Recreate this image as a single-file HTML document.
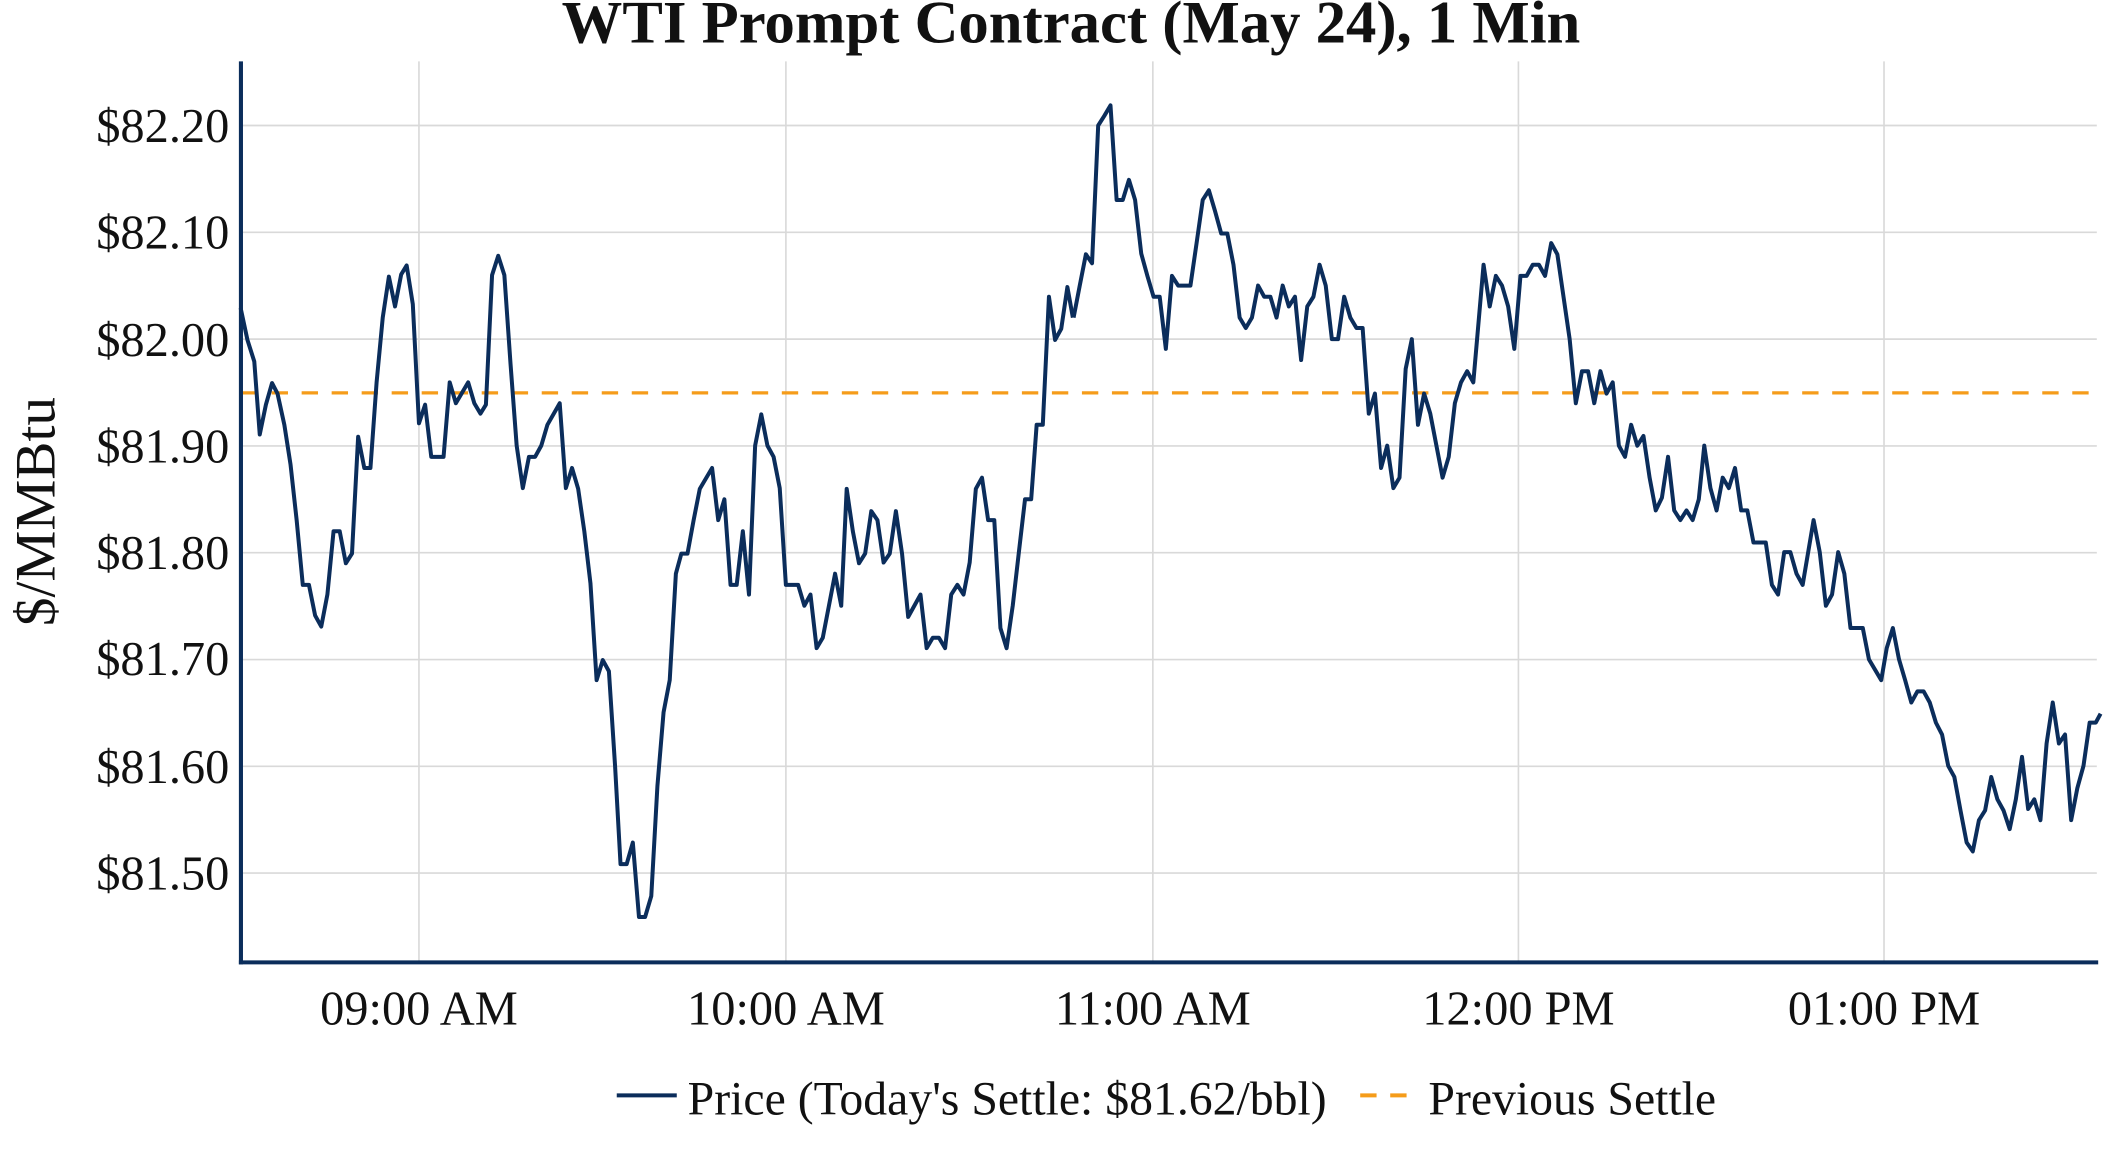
<!DOCTYPE html>
<html><head><meta charset="utf-8"><style>
html,body{margin:0;padding:0;background:#fff;}
svg{display:block;}
text{font-family:"Liberation Serif",serif;fill:#111;}
</style></head><body>
<svg width="2112" height="1152" viewBox="0 0 1548 844.5" xmlns="http://www.w3.org/2000/svg">
<rect width="1548" height="844.5" fill="#fff"/>
<g stroke="#d9d9d9" stroke-width="1.2">
<line x1="176" x2="1537" y1="92" y2="92"/><line x1="176" x2="1537" y1="170.3" y2="170.3"/>
<line x1="176" x2="1537" y1="248.6" y2="248.6"/><line x1="176" x2="1537" y1="326.9" y2="326.9"/>
<line x1="176" x2="1537" y1="405.2" y2="405.2"/><line x1="176" x2="1537" y1="483.5" y2="483.5"/>
<line x1="176" x2="1537" y1="561.8" y2="561.8"/><line x1="176" x2="1537" y1="640" y2="640"/>
<line x1="307" x2="307" y1="45" y2="706"/><line x1="576" x2="576" y1="45" y2="706"/>
<line x1="845" x2="845" y1="45" y2="706"/><line x1="1113" x2="1113" y1="45" y2="706"/>
<line x1="1381" x2="1381" y1="45" y2="706"/>
</g>
<line x1="177" x2="1537" y1="288" y2="288" stroke="#f59c1a" stroke-width="2.4" stroke-dasharray="12,10"/>
<g fill="none" stroke="#0b2d5b" stroke-width="4" stroke-linejoin="round">
<polyline transform="matrix(0.5009 0 0 0.5458 -1.554 -0.786)" vector-effect="non-scaling-stroke" points="355,415 365,458 375,487 383,585 392,545 401,516 409,530 419,572 428,625 437,700 446,787 455,787 464,828 473,843 482,800 491,715 500,715 509,758 518,745 527,588 536,630 545,630 554,515 563,428 572,373 581,413 590,370 598,358 607,410 616,570 625,545 634,615 652,615 661,515 670,543 688,515 697,543 706,557 714,545 723,371 732,345 741,371 750,490 759,600 768,657 777,615 786,615 795,600 804,572 822,543 831,657 840,630 849,658 858,715 867,785 876,915 885,888 894,903 903,1030 911,1162 920,1162 929,1133 938,1233 947,1233 956,1205 965,1057 974,958 983,915 992,772 1000,745 1009,745 1018,700 1027,658 1045,630 1054,700 1063,672 1072,787 1081,787 1090,715 1099,800 1108,600 1117,558 1126,600 1135,615 1144,657 1153,787 1171,787 1180,815 1189,800 1198,872 1207,858 1216,815 1225,772 1234,815 1242,658 1251,715 1260,758 1269,745 1278,688 1287,700 1296,757 1305,745 1314,688 1323,745 1332,830 1341,815 1350,800 1359,872 1368,858 1377,858 1386,872 1395,800 1404,787 1413,800 1422,757 1431,658 1440,643 1449,700 1458,700 1467,845 1476,872 1485,815 1494,743 1503,672 1512,672 1520,572 1529,572 1538,400 1547,458 1556,443 1565,387 1573,428"/>
<polyline transform="matrix(0.5009 0 0 0.5458 784.39 -0.786)" vector-effect="non-scaling-stroke" points="5,428 14,385 23,343 32,355 41,170 50,157 59,143 68,270 77,270 86,243 95,270 104,342 113,372 122,400 131,400 140,470 149,372 158,385 176,385 185,328 194,270 203,257 212,285 221,315 230,315 239,357 248,428 257,442 266,428 275,385 284,400 293,400 302,428 311,385 320,413 329,400 338,485 347,413 356,400 365,357 374,385 383,457 392,457 401,400 410,428 419,442 428,442 437,557 446,530 455,630 464,600 473,657 482,643 491,497 500,457 509,572 518,530 527,557 536,600 545,643 554,615 563,543 572,515 581,500 590,515 605,357 614,413 623,372 632,385 641,413 650,470 659,372 668,372 677,357 686,357 695,372 704,328 713,343 722,400 731,457 740,543 749,500 758,500 767,543 776,500 785,530 794,515 803,600 812,615 821,572 830,600 839,587 848,643 857,687 866,670 875,615 884,687 893,700 902,687 911,700 920,672 928,600 937,657 946,687 955,643 964,657 973,630 982,687 991,687 1000,730 1018,730 1027,787 1036,800 1045,743 1054,743 1063,772 1072,787 1088,700 1097,743 1106,815 1115,800 1124,743 1133,772 1142,845 1160,845 1169,887 1187,915 1195,872 1204,845 1213,887 1222,915 1231,945 1240,930 1249,930 1258,945 1267,972 1276,988 1285,1030 1294,1045 1303,1090 1312,1133 1321,1145 1330,1103 1339,1090 1348,1045 1357,1075 1366,1090 1375,1115 1384,1075 1393,1018 1402,1088 1411,1075 1420,1103 1429,1000 1438,945 1447,1000 1456,988 1465,1103 1474,1060 1483,1030 1492,972 1501,972 1508,960"/>
</g>
<g stroke="#0b2d5b" stroke-width="3">
<line x1="176.5" x2="176.5" y1="45" y2="707"/>
<line x1="175" x2="1538" y1="705.5" y2="705.5"/>
</g>
<text x="785" y="31" font-size="44.5" font-weight="bold" text-anchor="middle">WTI Prompt Contract (May 24), 1 Min</text>
<g font-size="35.5" text-anchor="end">
<text x="168" y="104">$82.20</text><text x="168" y="182">$82.10</text>
<text x="168" y="261">$82.00</text><text x="168" y="339">$81.90</text>
<text x="168" y="417">$81.80</text><text x="168" y="495">$81.70</text>
<text x="168" y="574">$81.60</text><text x="168" y="652">$81.50</text>
</g>
<text transform="translate(40,375) rotate(-90)" font-size="42" text-anchor="middle">$/MMBtu</text>
<g font-size="35.5" text-anchor="middle">
<text x="307" y="751">09:00 AM</text><text x="576" y="751">10:00 AM</text>
<text x="845" y="751">11:00 AM</text><text x="1113" y="751">12:00 PM</text>
<text x="1381" y="751">01:00 PM</text>
</g>
<line x1="452" x2="496" y1="803" y2="803" stroke="#0b2d5b" stroke-width="3"/>
<text x="504" y="817" font-size="35">Price (Today's Settle: $81.62/bbl)</text>
<line x1="997" x2="1037" y1="803" y2="803" stroke="#f59c1a" stroke-width="3" stroke-dasharray="12,10"/>
<text x="1047" y="817" font-size="35">Previous Settle</text>
</svg>
</body></html>
